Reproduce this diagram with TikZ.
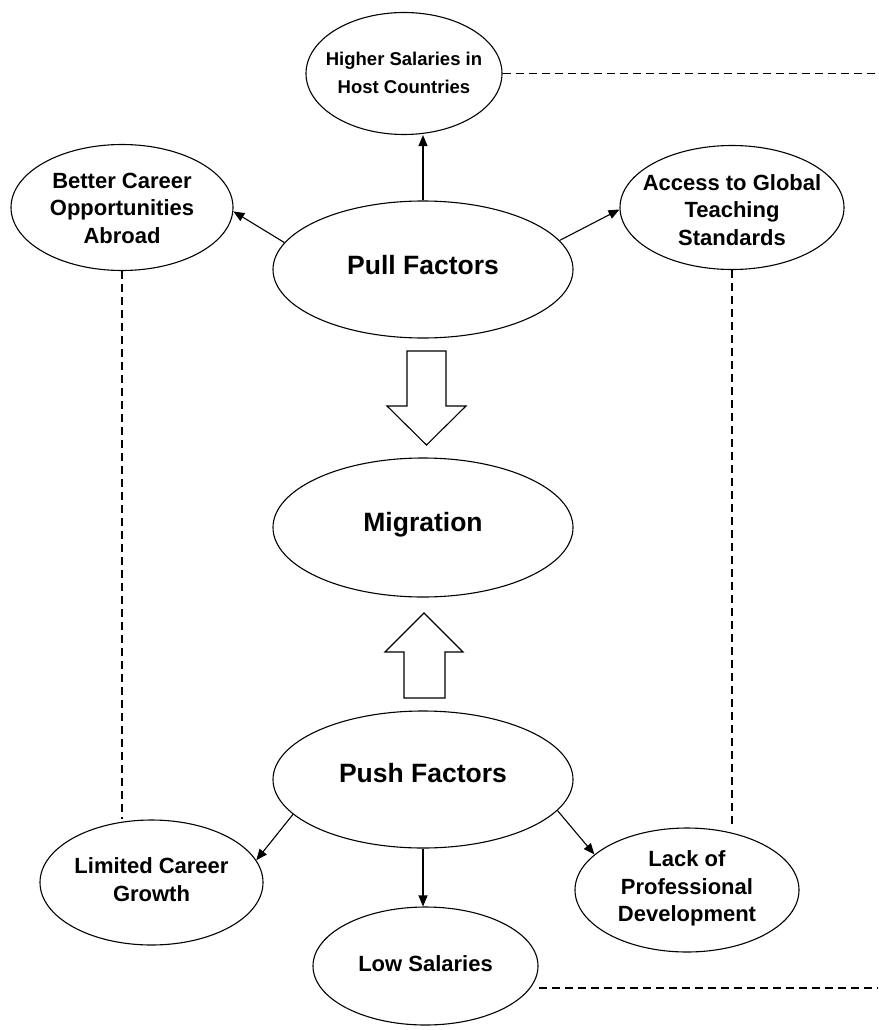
\documentclass[tikz,border=0pt]{standalone}
\usepackage{fontspec}
\setmainfont{Liberation Sans}
\usetikzlibrary{shapes.geometric,arrows.meta}
\newcommand\ETxt[2][-9.5pt]{\raisebox{#1}{\smash{\makebox[0pt]{\begin{tabular}{@{}c@{}}#2\end{tabular}}}}}
\tikzset{
  ell/.style={ellipse, draw, line width=1.1pt, inner sep=0pt, fill=white},
  smallfont/.style={font=\bfseries\fontsize{22}{27.5}\selectfont},
  bigfont/.style={font=\bfseries\fontsize{26.5}{30}\selectfont},
  arr/.style={line width=1.1pt, -{Triangle[length=11pt,width=9pt]}},
  dsh/.style={line width=1.1pt, dash pattern=on 8pt off 5pt},
  blockarrow/.style={draw, line width=1.1pt, fill=white, line join=miter}
}
\begin{document}
\begin{tikzpicture}[x=1pt,y=-1pt]
\useasboundingbox (0,0) rectangle (878,1030);

% nodes
\node[ell, minimum width=196pt, minimum height=122pt, font=\bfseries\fontsize{18.5}{27.5}\selectfont] (higher) at (404,73.5) {\ETxt{Higher Salaries in\\Host Countries}};
\node[ell, smallfont, minimum width=222pt, minimum height=126pt] (better) at (122,207.5) {\ETxt[-16pt]{Better Career\\Opportunities\\Abroad}};
\node[ell, smallfont, minimum width=224pt, minimum height=124pt] (access) at (732,207.5) {\ETxt[-20pt]{Access to Global\\Teaching\\Standards}};
\node[ell, bigfont, minimum width=300pt, minimum height=137pt] (pull) at (423,269.5) {\ETxt[-11pt]{Pull Factors}};
\node[ell, bigfont, minimum width=300pt, minimum height=139pt] (migration) at (423,527.5) {\ETxt[-9pt]{Migration}};
\node[ell, bigfont, minimum width=300pt, minimum height=137pt] (push) at (423,779.5) {\ETxt[-7pt]{Push Factors}};
\node[ell, smallfont, minimum width=223pt, minimum height=125pt] (limited) at (151.5,882.5) {\ETxt{Limited Career\\Growth}};
\node[ell, smallfont, minimum width=224pt, minimum height=124pt] (lack) at (687,890) {\ETxt[-8pt]{Lack of\\Professional\\Development}};
\node[ell, smallfont, minimum width=225pt, minimum height=118pt] (low) at (425.5,966) {\ETxt[-10pt]{Low Salaries}};

\coordinate (rt1) at (878,73.5);
\coordinate (rt2) at (878,988);

% solid arrows
\draw[arr] (pull.north) -- (pull.north |- higher.south);
\draw[arr] (pull.169) -- (better.-2);
\draw[arr] (pull.12) -- (access.181);
\draw[arr] (push.195) -- (limited.12);
\draw[arr] (push.-13) -- (lack.159);
\draw[arr] (push.south) -- (push.south |- low.north);

% dashed links
\draw[dsh] (higher.east) -- (rt1);
\draw[dsh] (better.south) -- (better.south |- limited.north);
\draw[dsh] (access.south) -- (access.south |- lack.north);
\draw[dsh] (low.east |- rt2) -- (rt2);

% block arrows
\draw[blockarrow] (407,351) -- (446,351) -- (446,406) -- (466,406) -- (426.5,445) -- (387,406) -- (407,406) -- cycle;
\draw[blockarrow] (404,698) -- (445,698) -- (445,652) -- (463,652) -- (424,613) -- (385,652) -- (404,652) -- cycle;
\end{tikzpicture}
\end{document}
